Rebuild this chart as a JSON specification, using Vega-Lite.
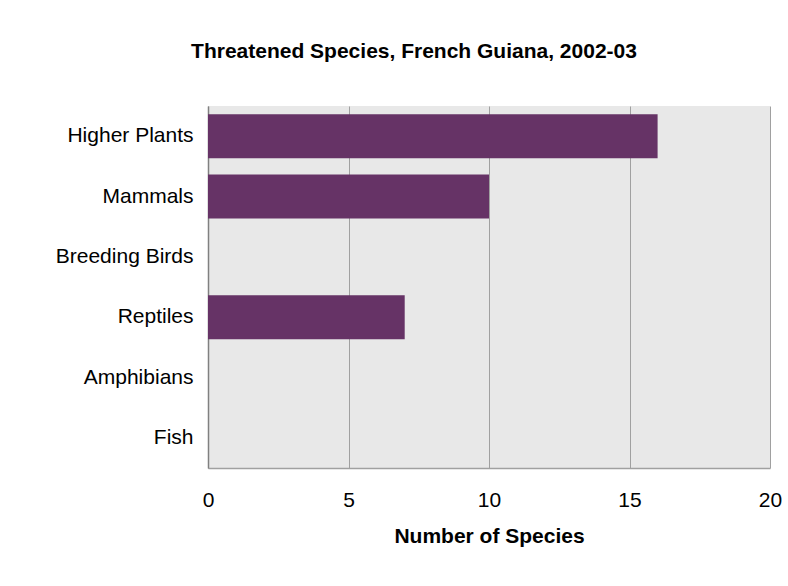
{
  "$schema": "https://vega.github.io/schema/vega-lite/v6.json",
  "width": 562,
  "height": 362,
  "autosize": {"type": "none"},
  "padding": {"left": 208, "top": 106, "right": 18, "bottom": 118},
  "background": "white",
  "title": {
    "text": "Threatened Species, French Guiana, 2002-03",
    "font": "Liberation Sans",
    "fontSize": 21,
    "fontWeight": "bold",
    "color": "black",
    "anchor": "middle",
    "dx": -75,
    "offset": 44
  },
  "data": {
    "values": [
      {"group": "Higher Plants", "count": 16},
      {"group": "Mammals", "count": 10},
      {"group": "Breeding Birds", "count": 0},
      {"group": "Reptiles", "count": 7},
      {"group": "Amphibians", "count": 0},
      {"group": "Fish", "count": 0}
    ]
  },
  "mark": {"type": "bar", "color": "#663366"},
  "encoding": {
    "y": {
      "field": "group",
      "type": "nominal",
      "sort": null,
      "scale": {"paddingInner": 0.27, "paddingOuter": 0.135},
      "axis": {
        "title": null,
        "ticks": false,
        "labelPadding": 15,
        "labelFont": "Liberation Sans",
        "labelFontSize": 21,
        "labelColor": "black",
        "domainColor": "#808080",
        "domainWidth": 1.5,
        "grid": false
      }
    },
    "x": {
      "field": "count",
      "type": "quantitative",
      "scale": {"domain": [0, 20], "nice": false},
      "axis": {
        "title": "Number of Species",
        "values": [0, 5, 10, 15, 20],
        "ticks": false,
        "labelFlush": false,
        "labelPadding": 21,
        "labelFont": "Liberation Sans",
        "labelFontSize": 21,
        "labelColor": "black",
        "titleFont": "Liberation Sans",
        "titleFontSize": 21,
        "titleFontWeight": "bold",
        "titleColor": "black",
        "titlePadding": 15,
        "domainColor": "#a0a0a0",
        "domainWidth": 1.5,
        "gridColor": "#a0a0a0",
        "gridWidth": 1
      }
    }
  },
  "config": {
    "view": {"fill": "#e8e8e8", "stroke": null}
  }
}
